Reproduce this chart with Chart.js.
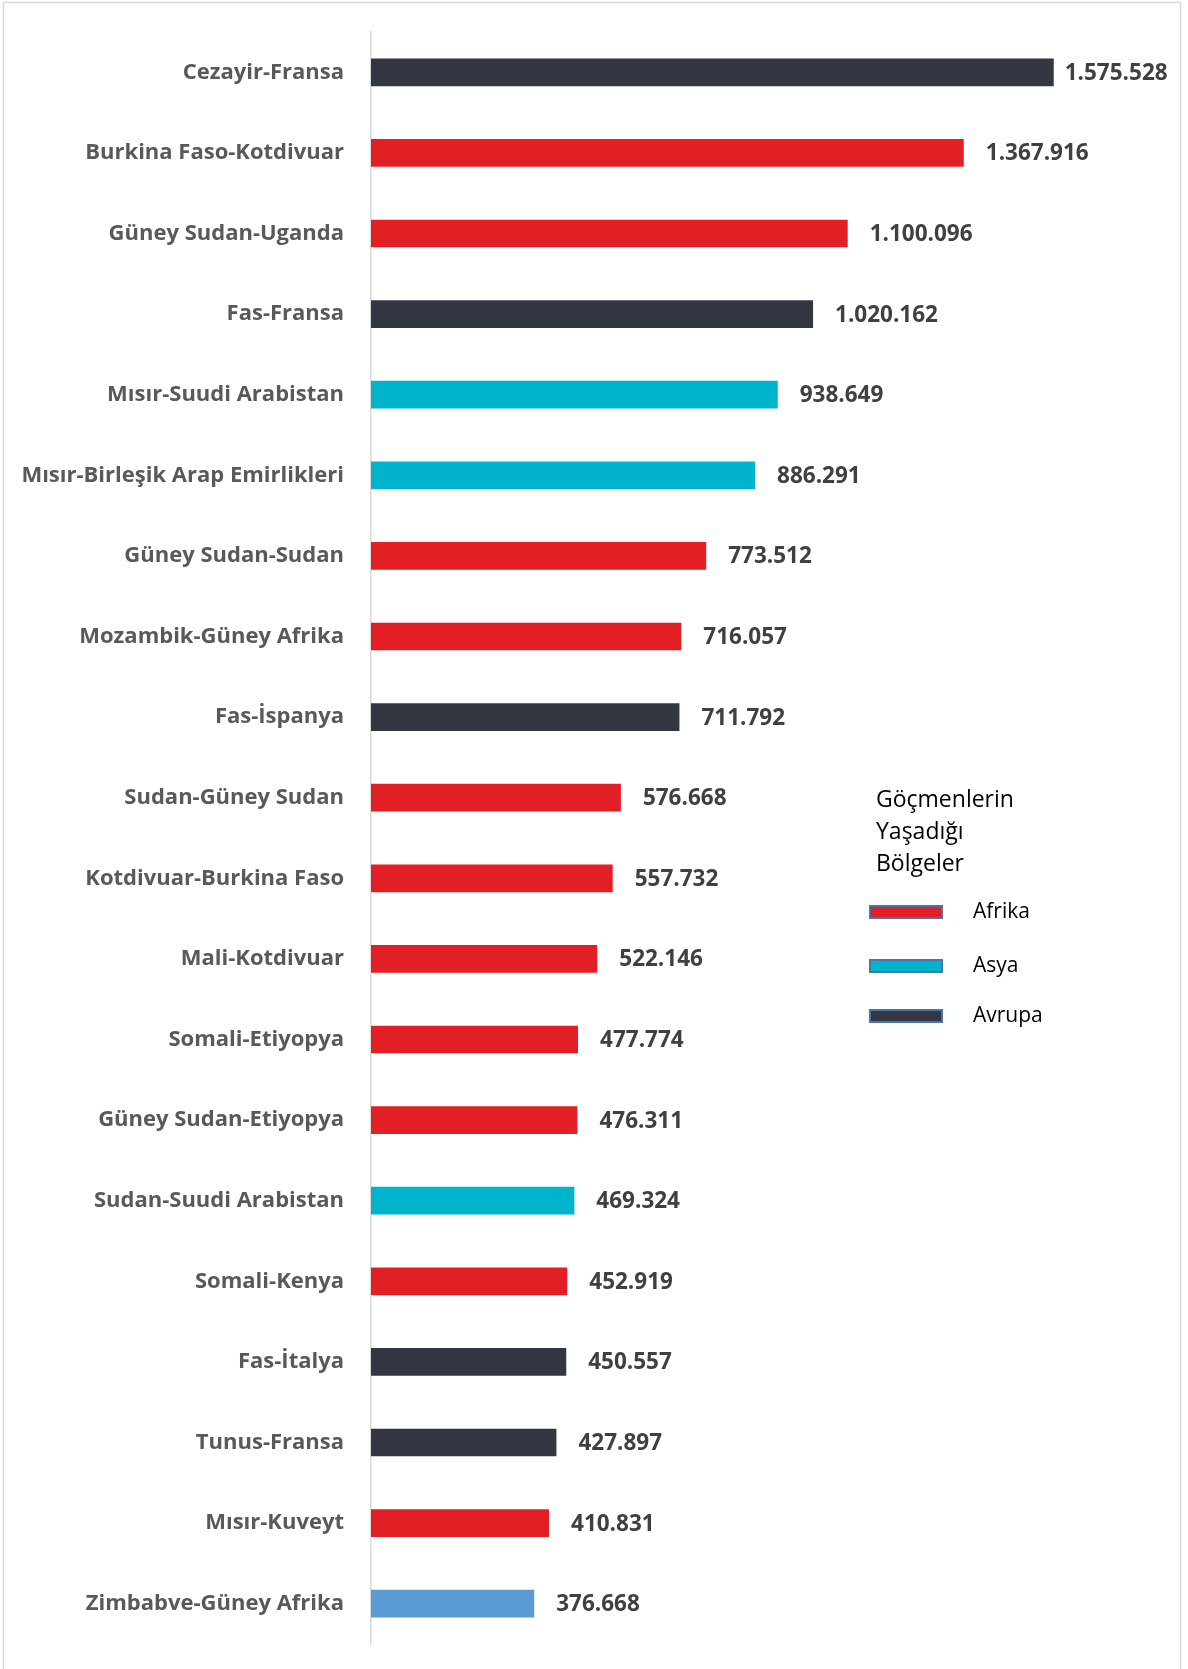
<!DOCTYPE html>
<html>
<head>
<meta charset="utf-8">
<script src="https://cdn.jsdelivr.net/npm/chart.js@4.4.0/dist/chart.umd.min.js"></script>
<style>
  html, body { margin: 0; padding: 0; background: #fff; }
  #wrap { position: relative; width: 1188px; height: 1669px; }
</style>
</head>
<body>
<div id="wrap"><canvas id="chart" width="1188" height="1669"></canvas></div>
<script>
// Göç koridorları (ülke-ülke) ve göçmen sayıları
const koridorlar = [
  'Cezayir-Fransa', 'Burkina Faso-Kotdivuar', 'Güney Sudan-Uganda', 'Fas-Fransa',
  'Mısır-Suudi Arabistan', 'Mısır-Birleşik Arap Emirlikleri', 'Güney Sudan-Sudan',
  'Mozambik-Güney Afrika', 'Fas-İspanya', 'Sudan-Güney Sudan', 'Kotdivuar-Burkina Faso',
  'Mali-Kotdivuar', 'Somali-Etiyopya', 'Güney Sudan-Etiyopya', 'Sudan-Suudi Arabistan',
  'Somali-Kenya', 'Fas-İtalya', 'Tunus-Fransa', 'Mısır-Kuveyt', 'Zimbabve-Güney Afrika'
];
const gocmenSayisi = [
  1575528, 1367916, 1100096, 1020162, 938649, 886291, 773512, 716057, 711792, 576668,
  557732, 522146, 477774, 476311, 469324, 452919, 450557, 427897, 410831, 376668
];
// Göçmenlerin yaşadığı bölge (renk için)
const bolgeler = [
  'Avrupa', 'Afrika', 'Afrika', 'Avrupa', 'Asya', 'Asya', 'Afrika', 'Afrika', 'Avrupa', 'Afrika',
  'Afrika', 'Afrika', 'Afrika', 'Afrika', 'Asya', 'Afrika', 'Avrupa', 'Avrupa', 'Afrika', 'Diger'
];
const legendBaslik = ['Göçmenlerin', 'Yaşadığı', 'Bölgeler'];
const legendBolgeler = ['Afrika', 'Asya', 'Avrupa'];

const renkler = {
  Afrika: '#e31f26',
  Asya: '#00b4cc',
  Avrupa: '#333742',
  Diger: '#5b9bd5'
};

// sayıyı 1.575.528 biçiminde yaz
const formatSayi = (v) => v.toString().replace(/\B(?=(\d{3})+(?!\d))/g, '.');

const FONT = '"Open Sans", "Noto Sans", sans-serif';

// çubuk değerleri + çerçeve + özel açıklama kutusu
const ekPlugin = {
  id: 'ekler',
  beforeDraw(chart) {
    const ctx = chart.ctx;
    ctx.save();
    ctx.fillStyle = '#fff';
    ctx.fillRect(0, 0, chart.width, chart.height);
    ctx.strokeStyle = '#d9d9d9';
    ctx.lineWidth = 1.5;
    ctx.strokeRect(3.5, 2.5, 1177, 1700);
    ctx.restore();
  },
  afterDatasetsDraw(chart) {
    const ctx = chart.ctx;
    const meta = chart.getDatasetMeta(0);
    ctx.save();
    ctx.font = 'bold 22.5px ' + FONT;
    ctx.fillStyle = '#404040';
    ctx.textBaseline = 'middle';
    ctx.textAlign = 'left';
    meta.data.forEach((bar, i) => {
      const txt = formatSayi(gocmenSayisi[i]);
      const w = ctx.measureText(txt).width;
      let x = bar.x + 22;
      if (x + w > 1176) x = bar.x + 11;
      ctx.fillText(txt, x, bar.y + 1);
    });

    // açıklama
    ctx.font = '23px ' + FONT;
    ctx.fillStyle = '#000';
    legendBaslik.forEach((s, i) => {
      ctx.fillText(s, 876, 800 + i * 32);
    });
    const itemY = [912, 966, 1016];
    ctx.font = '21px ' + FONT;
    legendBolgeler.forEach((b, i) => {
      const y = itemY[i];
      ctx.fillStyle = renkler[b];
      ctx.fillRect(870, y - 6, 72, 12);
      ctx.strokeStyle = '#4a75a8';
      ctx.lineWidth = 2;
      ctx.strokeRect(870, y - 6, 72, 12);
      ctx.fillStyle = '#000';
      ctx.fillText(b, 973, y);
    });
    ctx.restore();
  }
};

new Chart(document.getElementById('chart'), {
  type: 'bar',
  data: {
    labels: koridorlar,
    datasets: [{
      data: gocmenSayisi,
      backgroundColor: bolgeler.map(b => renkler[b]),
      borderWidth: 0,
      barPercentage: 0.86,
      categoryPercentage: 0.4
    }]
  },
  options: {
    indexAxis: 'y',
    responsive: false,
    animation: false,
    layout: { padding: { top: 32, bottom: 25, right: 37, left: 0 } },
    plugins: {
      legend: { display: false },
      tooltip: { enabled: false }
    },
    scales: {
      x: {
        display: false,
        min: 0,
        max: 1800000
      },
      y: {
        afterFit(scale) {
          scale.width = 371;
          scale.paddingTop = 0;
          scale.paddingBottom = 0;
        },
        grid: { display: false, drawTicks: false },
        border: { display: true, color: '#d9d9d9', width: 1.5 },
        ticks: {
          padding: 27,
          color: '#595959',
          font: { family: FONT, size: 22, weight: 'bold' }
        }
      }
    }
  },
  plugins: [ekPlugin]
});
</script>
</body>
</html>
